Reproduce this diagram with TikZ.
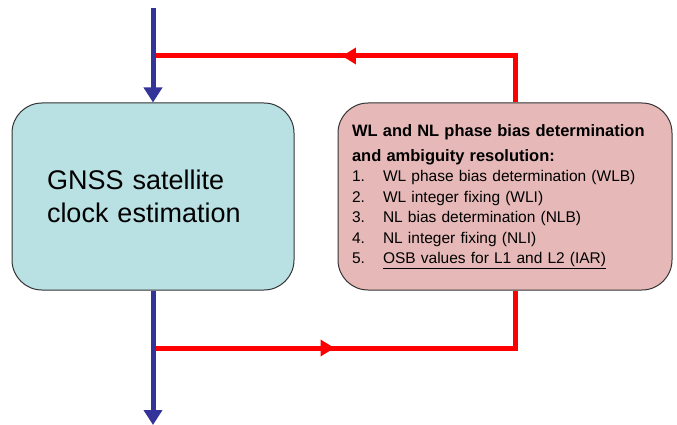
\documentclass[tikz,border=0pt]{standalone}
\usepackage{fontspec}
\setmainfont{Liberation Sans}
\usetikzlibrary{arrows.meta,decorations.markings}
\definecolor{clockfill}{RGB}{185,225,228}
\definecolor{biasfill}{RGB}{230,185,184}
\definecolor{flowblue}{RGB}{51,51,153}
\begin{document}
\begin{tikzpicture}[x=1pt, y=-1pt,
    box/.style={draw=black!80, line width=1pt, rounded corners=30pt, minimum width=282, minimum height=187, align=left},
    flow/.style={draw=flowblue, line width=5pt, -{Triangle[length=15pt,width=18pt]}},
    feedback/.style={draw=red, line width=5pt, postaction={decorate}},
    midarrow/.style={decoration={markings, mark=at position #1 with {\arrow{Triangle[length=14pt,width=16pt]}}}}]
         \useasboundingbox (0,0) rectangle (677,425);
         %nodes
         \node[box, fill=clockfill, text width=212, font=\fontsize{27}{33}\selectfont] at (153,196.5) (clock) {GNSS satellite\\clock estimation};
         \node[box, fill=biasfill, minimum width=334, text width=306, font=\fontsize{15.5}{20.5}\selectfont] at (505,196.5) (bias)
             {{\fontsize{16.5}{20.5}\selectfont\bfseries WL and NL phase bias determination\\[4.5pt]and ambiguity resolution:}\\
              \makebox[31pt][l]{1.}WL phase bias determination (WLB)\\
              \makebox[31pt][l]{2.}WL integer fixing (WLI)\\
              \makebox[31pt][l]{3.}NL bias determination (NLB)\\
              \makebox[31pt][l]{4.}NL integer fixing (NLI)\\
              \makebox[31pt][l]{5.}\underline{OSB values for L1 and L2 (IAR)}};
         \coordinate (in) at (153,8);
         \coordinate (out) at (153,425);
         \coordinate (topjoin) at (155,56);
         \coordinate (botjoin) at (155,348);
         %connectors
         \draw[feedback, midarrow=0.54] ([xshift=10]bias.north) |- (topjoin);
         \draw[feedback, midarrow=0.43] (botjoin) -| ([xshift=10]bias.south);
         \draw[flow] (in) -- (clock.north);
         \draw[flow] (clock.south) -- (out);
\end{tikzpicture}
\end{document}
